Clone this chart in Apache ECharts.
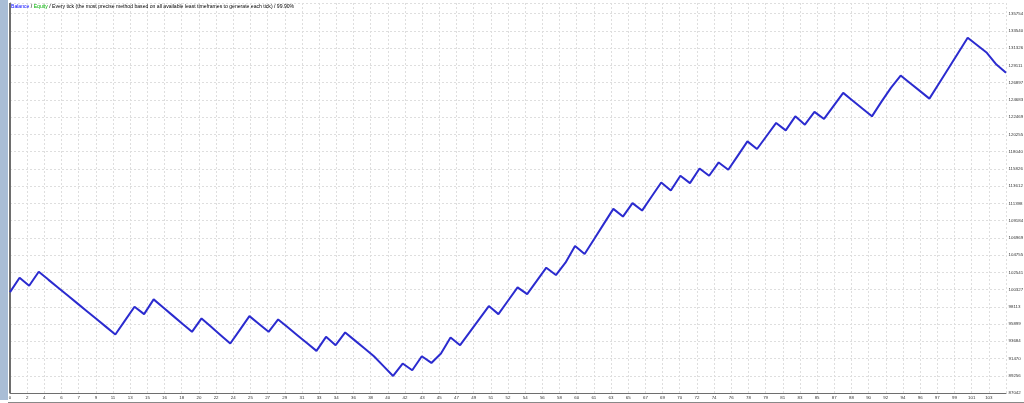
<!DOCTYPE html>
<html>
<head>
<meta charset="utf-8">
<script src="https://cdn.jsdelivr.net/npm/echarts@6/dist/echarts.min.js"></script>
<style>
html,body{margin:0;padding:0;background:#fff;}
#c{width:1024px;height:403px;}
</style>
</head>
<body>
<div id="c"></div>
<script>
// Trade numbers 0..104 and balance after each trade
const trades = [];
for (let i = 0; i <= 104; i++) trades.push(i);
const balance = [
  100000, 101846, 100816, 102618, 101605, 100600, 99590, 98585, 97580, 96572,
  95566, 94560, 96337, 98113, 97173, 99065, 98020, 96980, 95935, 94895,
  96619, 95545, 94470, 93401, 95158, 96915, 95905, 94895, 96491, 95480,
  94470, 93460, 92449, 94251, 93182, 94817, 93800, 92783, 91766, 90500,
  89230, 90827, 89964, 91766, 90904, 92114, 94174, 93182, 94860, 96530,
  98203, 97173, 98890, 100610, 99748, 101440, 103133, 102194, 103777, 105927,
  104897, 106830, 108760, 110689, 109699, 111423, 110471, 112273, 114075, 113045,
  114938, 113998, 115878, 114938, 116650, 115710, 117530, 119353, 118375, 120050,
  121722, 120769, 122572, 121504, 123138, 122237, 123910, 125584, 124580, 123576,
  122572, 124464, 126265, 127811, 126825, 125838, 124850, 126800, 128755, 130710,
  132664, 131700, 130733, 129226, 128159
];
const xLabels = ['0','2','4','6','7','9','11','13','15','16','18','20','22','24','25','27','29','31','33','34',
  '36','38','40','42','43','45','47','49','51','52','54','56','58','60','61','63','65','67','69','70',
  '72','74','76','78','79','81','83','85','87','88','90','92','94','96','97','99','101','103'];
const yLabels = ['87042','89256','91470','93684','95899','98113','100327','102541','104755','106969',
  '109184','111398','113612','115826','118040','120255','122469','124683','126897','129111',
  '131326','133540','135754'];
const legendParts = ['Balance', ' / ', 'Equity', ' / Every tick (the most precise method based on all available least timeframes to generate each tick) / 99.90%'];

const xMax = 104;
const xStep = xMax / 58;
const yMin = Number(yLabels[0]);
const yTop = Number(yLabels[yLabels.length - 1]);
const yStep = (yTop - yMin) / (yLabels.length - 1);
const yMax = yTop + yStep * 0.62;

const chart = echarts.init(document.getElementById('c'), null, {renderer: 'canvas'});
const FF = 'Liberation Sans';
const lblFont = {fontFamily: FF, fontSize: 4.4, color: '#333'};
chart.setOption({
  animation: false,
  backgroundColor: '#ffffff',
  grid: {left: 10, right: 18, top: 3, bottom: 10, containLabel: false, outerBoundsMode: 'none',
         show: false},
  title: {
    left: 11, top: 4.5, padding: 0,
    text: '{b|' + legendParts[0] + '}{k|' + legendParts[1] + '}{g|' + legendParts[2] + '}{k|' + legendParts[3] + '}',
    textStyle: {
      fontSize: 5.1, fontFamily: FF, fontWeight: 'normal',
      rich: {
        b: {color: '#0000ff', fontSize: 5.1, fontFamily: FF},
        g: {color: '#00b000', fontSize: 5.1, fontFamily: FF},
        k: {color: '#000', fontSize: 5.1, fontFamily: FF}
      }
    }
  },
  xAxis: {
    type: 'value', min: 0, max: xMax, interval: xStep,
    axisLine: {show: true, onZero: false, lineStyle: {color: '#6e6e6e', width: 1}},
    axisTick: {show: false},
    splitLine: {show: true, lineStyle: {color: '#dedede', type: [2, 2], width: 1}},
    axisLabel: {
      ...lblFont, margin: 3, showMaxLabel: false,
      formatter: function (v) { const i = Math.round(v / xStep); return xLabels[i] !== undefined ? xLabels[i] : ''; }
    }
  },
  yAxis: {
    type: 'value', position: 'right', min: yMin, max: yMax, interval: yStep,
    axisLine: {show: true, lineStyle: {color: '#6e6e6e', width: 1}},
    axisTick: {show: false},
    splitLine: {show: true, lineStyle: {color: '#dedede', type: [2, 2], width: 1}},
    axisLabel: {
      ...lblFont, margin: 2.5, align: 'left',
      formatter: function (v) { const i = Math.round((v - yMin) / yStep); return yLabels[i] !== undefined ? yLabels[i] : ''; }
    }
  },
  series: [{
    type: 'line',
    data: trades.map((t, i) => [t, balance[i]]),
    showSymbol: false,
    symbol: 'none',
    lineStyle: {color: '#2b2bcf', width: 2},
    z: 5
  }],
  graphic: [
    {type: 'rect', shape: {x: 0, y: 0, width: 8, height: 400}, style: {fill: '#a9bdd6'}, silent: true},
    {type: 'line', shape: {x1: 9.5, y1: 3, x2: 9.5, y2: 393}, style: {stroke: '#6e6e6e', lineWidth: 1}, silent: true},
    {type: 'line', shape: {x1: 8, y1: 402.5, x2: 1024, y2: 402.5}, style: {stroke: '#888', lineWidth: 1}, silent: true}
  ]
});
</script>
</body>
</html>
